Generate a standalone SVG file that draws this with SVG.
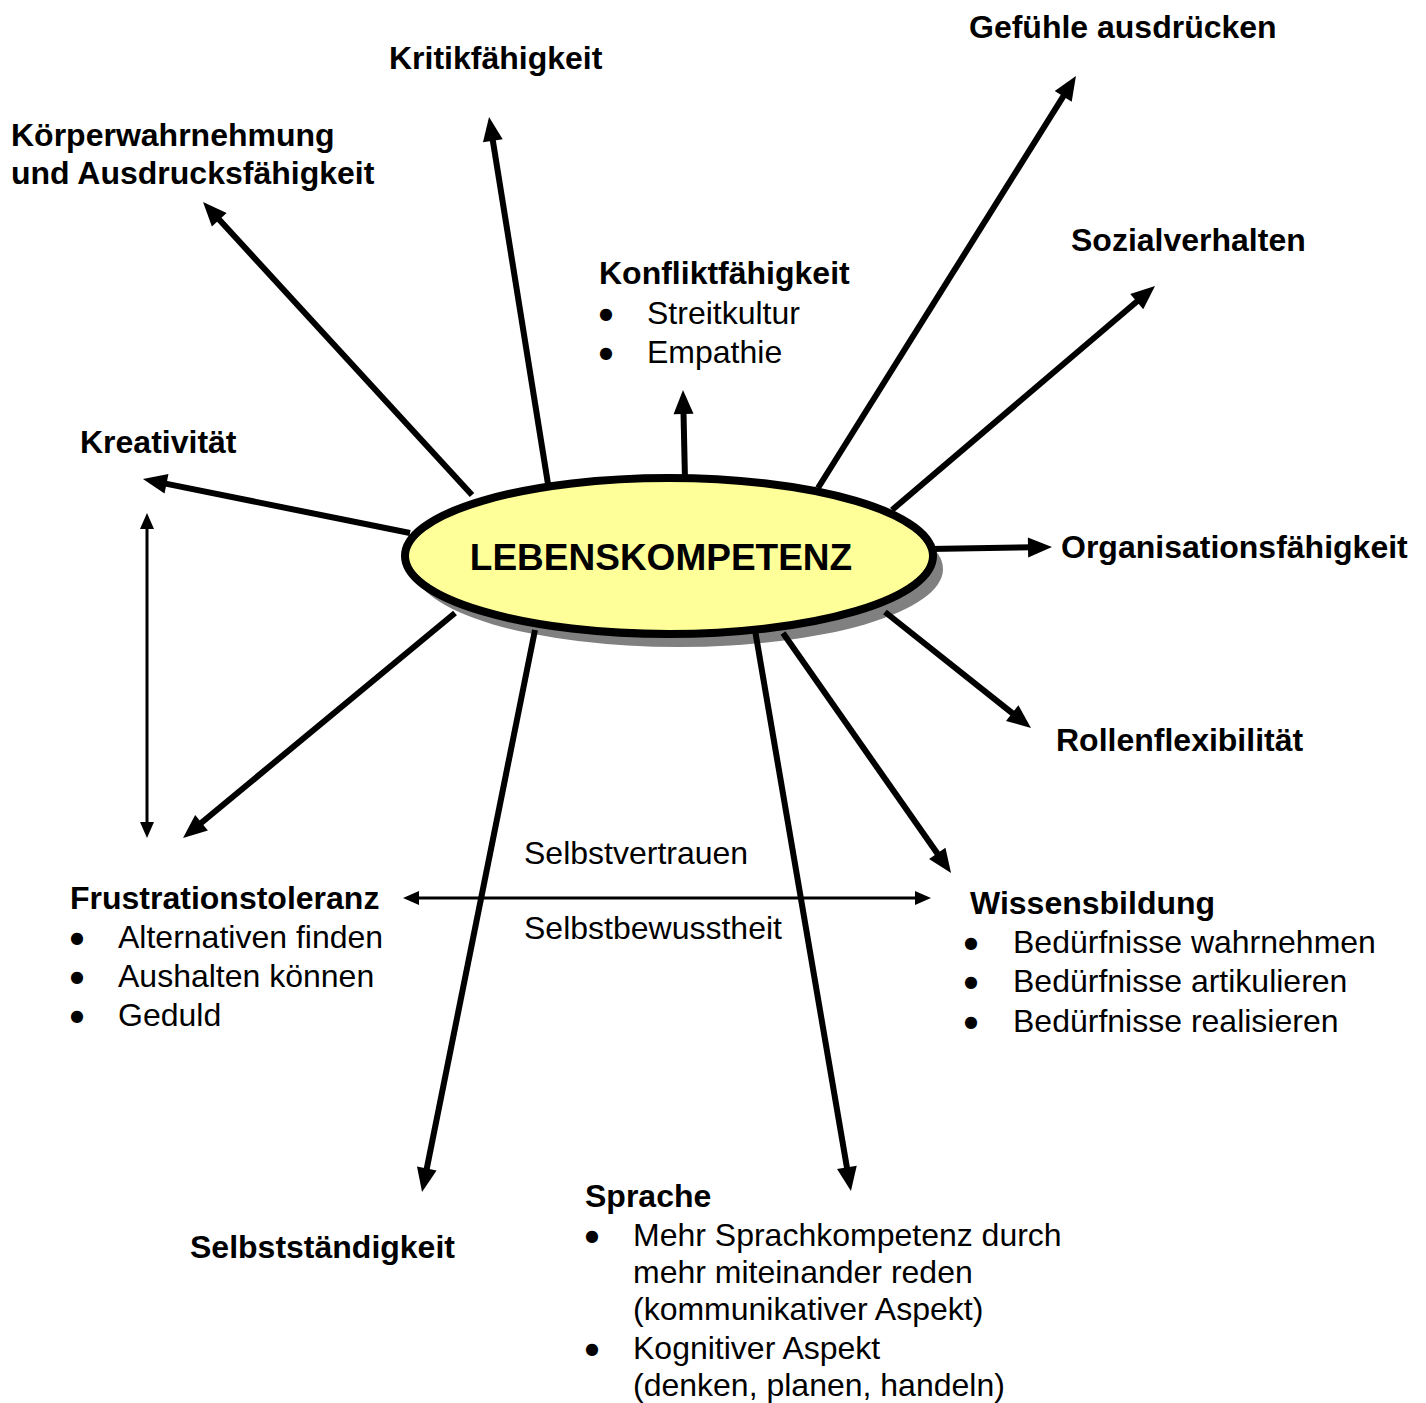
<svg xmlns="http://www.w3.org/2000/svg" width="1426" height="1403" viewBox="0 0 1426 1403">
<style>
text{font-family:"Liberation Sans",Arial,sans-serif;fill:#000}
.b{font-weight:bold;font-size:32px}
.r{font-size:32px}
.bu{font-family:"DejaVu Sans",sans-serif;font-size:16px;text-anchor:middle}
.thick{stroke:#000;stroke-width:6;fill:none;marker-end:url(#ah)}
.thin{stroke:#000;stroke-width:3;fill:none;marker-start:url(#ts);marker-end:url(#te)}
</style>
<defs>
<marker id="ah" markerUnits="userSpaceOnUse" markerWidth="24" markerHeight="20" refX="6" refY="10" orient="auto" overflow="visible"><path d="M0,0 L24,10 L0,20 Z" fill="#000"/></marker>
<marker id="te" markerUnits="userSpaceOnUse" markerWidth="16" markerHeight="14" refX="6" refY="7" orient="auto" overflow="visible"><path d="M0,0 L16,7 L0,14 Z" fill="#000"/></marker>
<marker id="ts" markerUnits="userSpaceOnUse" markerWidth="16" markerHeight="14" refX="10" refY="7" orient="auto" overflow="visible"><path d="M16,0 L0,7 L16,14 Z" fill="#000"/></marker>
</defs>
<rect width="1426" height="1403" fill="#fff"/>
<ellipse cx="679" cy="569" rx="264" ry="78" fill="#808080"/>
<g id="connectors">
<line class="thick" x1="472" y1="495" x2="215.2" y2="215.3"/>
<line class="thick" x1="548" y1="484" x2="491.9" y2="134.8"/>
<line class="thick" x1="685" y1="480" x2="683.4" y2="408"/>
<line class="thick" x1="818" y1="488" x2="1066.4" y2="91.3"/>
<line class="thick" x1="892" y1="510" x2="1141.3" y2="297.7"/>
<line class="thick" x1="930" y1="549" x2="1034" y2="547.3"/>
<line class="thick" x1="885" y1="612" x2="1016.9" y2="716.8"/>
<line class="thick" x1="783" y1="633" x2="940.7" y2="858.3"/>
<line class="thick" x1="755" y1="630" x2="847.9" y2="1173.3"/>
<line class="thick" x1="535" y1="630" x2="425.6" y2="1174.4"/>
<line class="thick" x1="455" y1="613" x2="196.9" y2="826.5"/>
<line class="thick" x1="410" y1="533" x2="160.6" y2="482.6"/>
<line class="thin" x1="147" y1="523" x2="147" y2="828"/>
<line class="thin" x1="413" y1="898" x2="921" y2="898"/>
</g>
<g id="center">
<ellipse cx="669" cy="556" rx="264" ry="78" fill="#FFFF99" stroke="#000" stroke-width="8"/>
<text x="661" y="570" text-anchor="middle" font-weight="bold" font-size="37">LEBENSKOMPETENZ</text>
</g>
<g id="koerper"><text class="b" x="11" y="146">Körperwahrnehmung</text><text class="b" x="11" y="184">und Ausdrucksfähigkeit</text></g>
<g id="kritik"><text class="b" x="389" y="69">Kritikfähigkeit</text></g>
<g id="gefuehle"><text class="b" x="969" y="38">Gefühle ausdrücken</text></g>
<g id="sozial"><text class="b" x="1071" y="251">Sozialverhalten</text></g>
<g id="konflikt"><text class="b" x="599" y="284">Konfliktfähigkeit</text>
<text class="bu" x="606" y="319">●</text><text class="r" x="647" y="324">Streitkultur</text>
<text class="bu" x="606" y="358">●</text><text class="r" x="647" y="363">Empathie</text></g>
<g id="kreativ"><text class="b" x="80" y="453">Kreativität</text></g>
<g id="orga"><text class="b" x="1061" y="558">Organisationsfähigkeit</text></g>
<g id="rollen"><text class="b" x="1056" y="751">Rollenflexibilität</text></g>
<g id="selbst"><text class="r" x="524" y="864">Selbstvertrauen</text><text class="r" x="524" y="939">Selbstbewusstheit</text></g>
<g id="frust"><text class="b" x="70" y="909">Frustrationstoleranz</text>
<text class="bu" x="77" y="943">●</text><text class="r" x="118" y="948">Alternativen finden</text>
<text class="bu" x="77" y="982">●</text><text class="r" x="118" y="987">Aushalten können</text>
<text class="bu" x="77" y="1021">●</text><text class="r" x="118" y="1026">Geduld</text></g>
<g id="wissen"><text class="b" x="970" y="914">Wissensbildung</text>
<text class="bu" x="971" y="948">●</text><text class="r" x="1013" y="953">Bedürfnisse wahrnehmen</text>
<text class="bu" x="971" y="987">●</text><text class="r" x="1013" y="992">Bedürfnisse artikulieren</text>
<text class="bu" x="971" y="1027">●</text><text class="r" x="1013" y="1032">Bedürfnisse realisieren</text></g>
<g id="selbststaendig"><text class="b" x="190" y="1258">Selbstständigkeit</text></g>
<g id="sprache"><text class="b" x="585" y="1207">Sprache</text>
<text class="bu" x="592" y="1241">●</text><text class="r" x="633" y="1246">Mehr Sprachkompetenz durch</text>
<text class="r" x="633" y="1283">mehr miteinander reden</text>
<text class="r" x="633" y="1320">(kommunikativer Aspekt)</text>
<text class="bu" x="592" y="1354">●</text><text class="r" x="633" y="1359">Kognitiver Aspekt</text>
<text class="r" x="633" y="1396">(denken, planen, handeln)</text></g>
</svg>
